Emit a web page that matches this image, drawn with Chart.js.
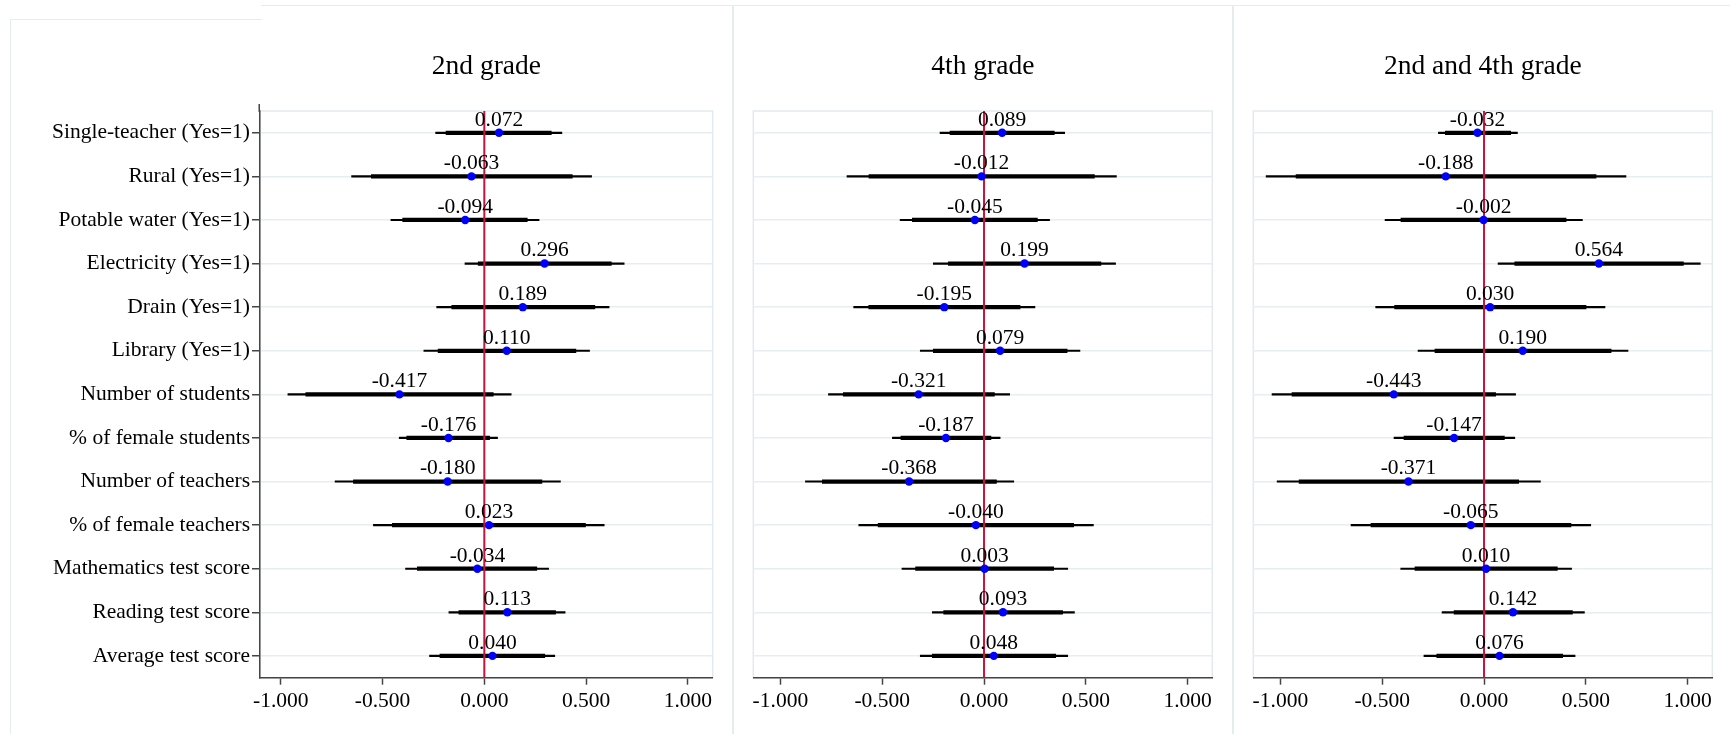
<!DOCTYPE html>
<html><head><meta charset="utf-8">
<script src="https://cdn.jsdelivr.net/npm/chart.js@4.4.1/dist/chart.umd.min.js"></script>
<style>
html,body{margin:0;padding:0;background:#fff;}
#wrap{position:relative;width:1730px;height:734px;overflow:hidden;background:#fff;}
.fr{position:absolute;background:#e4ecef;}
.pc{position:absolute;top:0;}
</style></head><body>
<div id="wrap">
 <div class="fr" style="left:9.5px;top:18.5px;width:1.5px;height:716px"></div>
 <div class="fr" style="left:9.5px;top:18.5px;width:252px;height:1.5px"></div>
 <div class="fr" style="left:261px;top:4.5px;width:1469px;height:1.5px"></div>
 <div class="fr" style="left:732px;top:4.5px;width:1.5px;height:730px"></div>
 <div class="fr" style="left:1232px;top:4.5px;width:1.5px;height:730px"></div>
 <canvas id="c1" class="pc" style="left:0px" width="733" height="734"></canvas>
 <canvas id="c2" class="pc" style="left:733px" width="500" height="734"></canvas>
 <canvas id="c3" class="pc" style="left:1233px" width="497" height="734"></canvas>
</div>
<script>
const categories = ["Single-teacher (Yes=1)", "Rural (Yes=1)", "Potable water (Yes=1)", "Electricity (Yes=1)",
  "Drain (Yes=1)", "Library (Yes=1)", "Number of students", "% of female students", "Number of teachers",
  "% of female teachers", "Mathematics test score", "Reading test score", "Average test score"];
const tickValues = [-1, -0.5, 0, 0.5, 1];
const panelTitles = ["2nd grade", "4th grade", "2nd and 4th grade"];

const grade2Coef = [0.072, -0.063, -0.094, 0.296, 0.189, 0.110, -0.417, -0.176, -0.180, 0.023, -0.034, 0.113, 0.040];
const grade2Lo95 = [-0.239, -0.652, -0.459, -0.095, -0.234, -0.297, -0.965, -0.418, -0.733, -0.545, -0.387, -0.174, -0.269];
const grade2Hi95 = [0.381, 0.527, 0.269, 0.687, 0.613, 0.517, 0.132, 0.065, 0.374, 0.589, 0.316, 0.397, 0.346];
const grade2Lo90 = [-0.188, -0.555, -0.401, -0.030, -0.160, -0.227, -0.877, -0.381, -0.643, -0.452, -0.329, -0.125, -0.218];
const grade2Hi90 = [0.329, 0.432, 0.211, 0.624, 0.543, 0.450, 0.044, 0.026, 0.283, 0.497, 0.258, 0.350, 0.297];

const grade4Coef = [0.089, -0.012, -0.045, 0.199, -0.195, 0.079, -0.321, -0.187, -0.368, -0.040, 0.003, 0.093, 0.048];
const grade4Lo95 = [-0.216, -0.673, -0.412, -0.249, -0.640, -0.313, -0.764, -0.450, -0.877, -0.615, -0.403, -0.254, -0.313];
const grade4Hi95 = [0.396, 0.650, 0.322, 0.646, 0.250, 0.471, 0.126, 0.079, 0.146, 0.537, 0.411, 0.444, 0.411];
const grade4Lo90 = [-0.167, -0.565, -0.352, -0.175, -0.566, -0.249, -0.691, -0.408, -0.794, -0.520, -0.336, -0.198, -0.254];
const grade4Hi90 = [0.345, 0.542, 0.262, 0.574, 0.177, 0.408, 0.051, 0.034, 0.061, 0.440, 0.342, 0.386, 0.352];

const bothCoef = [-0.032, -0.188, -0.002, 0.564, 0.030, 0.190, -0.443, -0.147, -0.371, -0.065, 0.010, 0.142, 0.076];
const bothLo95 = [-0.224, -1.070, -0.486, 0.069, -0.532, -0.324, -1.041, -0.442, -1.016, -0.653, -0.409, -0.206, -0.295];
const bothHi95 = [0.164, 0.697, 0.483, 1.062, 0.594, 0.707, 0.155, 0.151, 0.277, 0.524, 0.430, 0.493, 0.447];
const bothLo90 = [-0.190, -0.923, -0.408, 0.151, -0.439, -0.241, -0.943, -0.393, -0.908, -0.555, -0.339, -0.147, -0.232];
const bothHi90 = [0.131, 0.550, 0.403, 0.979, 0.501, 0.624, 0.057, 0.100, 0.170, 0.427, 0.360, 0.434, 0.386];

const FONT = '"Liberation Serif", "Times New Roman", "DejaVu Serif", serif';
const GRID = '#e6eef1';
const AXIS = '#454545';

const framePlugin = {
  id: 'frame',
  beforeDraw(chart) {
    const a = chart.chartArea, c = chart.ctx;
    c.save();
    c.strokeStyle = '#e2eaee';
    c.lineWidth = 1.5;
    c.strokeRect(a.left, a.top, a.right - a.left, a.bottom - a.top);
    c.restore();
  },
  afterDraw(chart) {
    if (!chart.options.scales.y.border.display) return;
    const a = chart.chartArea, c = chart.ctx;
    c.save();
    c.strokeStyle = AXIS;
    c.lineWidth = 1.5;
    c.beginPath(); c.moveTo(a.left - 0.75, a.top - 7); c.lineTo(a.left - 0.75, a.top + 1); c.stroke();
    c.restore();
  }
};
const zeroLinePlugin = {
  id: 'zeroLine',
  beforeDatasetDraw(chart, args) {
    if (args.index !== 2) return;
    const a = chart.chartArea, c = chart.ctx;
    const x = chart.scales.x.getPixelForValue(0);
    c.save();
    c.strokeStyle = '#c8143c';
    c.lineWidth = 2;
    c.beginPath(); c.moveTo(x, a.top); c.lineTo(x, a.bottom); c.stroke();
    c.restore();
  }
};
const valueLabelPlugin = {
  id: 'valueLabels',
  afterDatasetsDraw(chart) {
    const meta = chart.getDatasetMeta(2);
    const vals = chart.data.datasets[2].data;
    const c = chart.ctx;
    c.save();
    c.font = '21.5px ' + FONT;
    c.fillStyle = '#000';
    c.textAlign = 'center';
    c.textBaseline = 'alphabetic';
    meta.data.forEach((pt, i) => {
      c.fillText(Number(vals[i]).toFixed(3), pt.x, pt.y - 7.2);
    });
    c.restore();
  }
};

function makeChart(id, title, coef, lo95, hi95, lo90, hi90, g) {
  return new Chart(document.getElementById(id), {
    type: 'bar',
    data: {
      labels: categories,
      datasets: [
        { type: 'bar', data: lo95.map((v, i) => [v, hi95[i]]), backgroundColor: '#000', borderWidth: 0,
          barThickness: 1.5, grouped: false, order: 2 },
        { type: 'bar', data: lo90.map((v, i) => [v, hi90[i]]), backgroundColor: '#000', borderWidth: 0,
          barThickness: 3.6, grouped: false, order: 1 },
        { type: 'line', indexAxis: 'y', data: coef, showLine: false, pointRadius: 4.2,
          pointBackgroundColor: '#0000ff', pointBorderWidth: 0, pointBorderColor: '#0000ff', order: 0 }
      ]
    },
    options: {
      indexAxis: 'y',
      responsive: false,
      animation: false,
      events: [],
      devicePixelRatio: 1,
      layout: { padding: { left: 0, right: g.padRight, top: 0, bottom: 0 } },
      plugins: {
        legend: { display: false },
        tooltip: { enabled: false },
        title: { display: true, text: title, fullSize: false, color: '#000',
          font: { family: FONT, size: 27.5, weight: 'normal', lineHeight: 1.2 },
          padding: { top: 50, bottom: 28 } }
      },
      scales: {
        x: {
          type: 'linear', position: 'bottom', min: g.xMin, max: g.xMax,
          afterBuildTicks(s) { s.ticks = tickValues.map(v => ({ value: v })); },
          afterFit(s) { s.height = 56.3; },
          ticks: { callback: v => Number(v).toFixed(3), font: { family: FONT, size: 21.5 }, color: '#000',
            padding: 3.8, autoSkip: false, maxRotation: 0 },
          grid: { drawOnChartArea: false, tickLength: 7, tickColor: AXIS, tickWidth: 1.5, color: AXIS },
          border: { display: true, color: AXIS, width: 1.5 }
        },
        y: {
          type: 'category', offset: true,
          afterFit(s) { s.width = g.yWidth; },
          ticks: { display: g.showLabels, font: { family: FONT, size: 21.5 }, color: '#000', padding: 2, autoSkip: false },
          grid: { offset: false, color: GRID, lineWidth: 1.5, drawTicks: g.showLabels, tickLength: 8,
            tickColor: AXIS, tickWidth: 1.5 },
          border: { display: g.showLabels, color: AXIS, width: 1.5 }
        }
      }
    },
    plugins: [framePlugin, zeroLinePlugin, valueLabelPlugin]
  });
}

makeChart('c1', panelTitles[0], grade2Coef, grade2Lo95, grade2Hi95, grade2Lo90, grade2Hi90,
  { xMin: -1.102, xMax: 1.122, yWidth: 260, padRight: 20.3, showLabels: true });
makeChart('c2', panelTitles[1], grade4Coef, grade4Lo95, grade4Hi95, grade4Lo90, grade4Hi90,
  { xMin: -1.133, xMax: 1.121, yWidth: 20.3, padRight: 20.7, showLabels: false });
makeChart('c3', panelTitles[2], bothCoef, bothLo95, bothHi95, bothLo90, bothHi90,
  { xMin: -1.133, xMax: 1.121, yWidth: 20.3, padRight: 17.7, showLabels: false });
</script>
</body></html>
